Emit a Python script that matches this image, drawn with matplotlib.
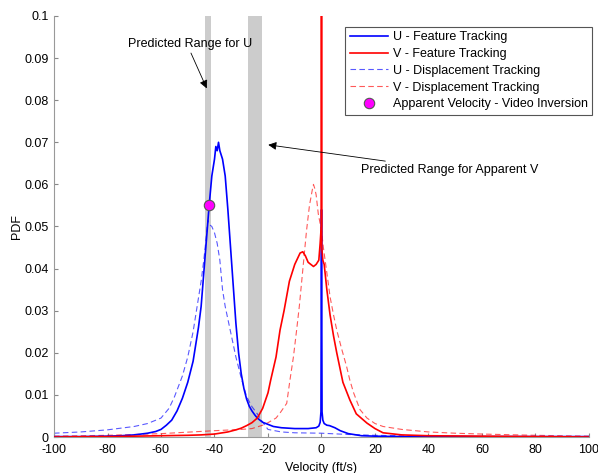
import numpy as np
import matplotlib
matplotlib.use("Agg")
import matplotlib.pyplot as plt
from matplotlib.ticker import FuncFormatter

plt.rcParams['font.family'] = ['Liberation Sans', 'DejaVu Sans']
plt.rcParams['axes.unicode_minus'] = False

# U - Feature Tracking
u_ft_x = [-100, -90, -80, -75, -70, -65, -62, -60, -58, -56, -54, -52, -50, -48, -46, -45, -44, -43, -42, -41,
          -40, -39.5, -39, -38.5, -38, -37, -36, -35, -34, -33, -32, -31, -30, -29, -28, -27, -26, -25, -24, -23,
          -22, -20, -18, -15, -10, -5, -2, -1, -0.5, -0.2, 0, 0.2, 0.5, 1, 2, 3, 5, 7, 10, 15, 20, 30, 40, 60, 80, 100]
u_ft_y = [0.0001, 0.0001, 0.0002, 0.0003, 0.0005, 0.0009, 0.0013, 0.0018, 0.0028, 0.004, 0.0062, 0.0092, 0.013,
          0.018, 0.026, 0.031, 0.039, 0.047, 0.055, 0.062, 0.066, 0.069, 0.068, 0.070, 0.068, 0.066, 0.062, 0.054,
          0.045, 0.036, 0.027, 0.020, 0.015, 0.0115, 0.009, 0.0073, 0.0062, 0.0053, 0.0045, 0.004, 0.0035, 0.003,
          0.0025, 0.0022, 0.002, 0.002, 0.0022, 0.0026, 0.0035, 0.006, 0.054, 0.006, 0.004, 0.0032, 0.0028, 0.0027,
          0.0022, 0.0015, 0.0008, 0.0003, 0.0002, 0.0001, 0.0001, 0.0001, 0.0001, 0.0001]

# V - Feature Tracking
v_ft_x = [-100, -80, -70, -60, -50, -45, -40, -35, -32, -30, -28, -26, -24, -22, -20, -19, -17, -15.5, -14, -12,
          -10, -8, -7, -6, -5, -4, -3, -2, -1, -0.5, -0.1, 0, 0.1, 0.5, 1, 2, 3.2, 4.5, 5.7, 8, 10.6, 13, 17, 20,
          23, 30, 40, 60, 80, 100]
v_ft_y = [0.0, 0.0001, 0.0002, 0.0003, 0.0004, 0.0005, 0.0007, 0.0012, 0.0017, 0.0021, 0.0027, 0.0034, 0.0045,
          0.0068, 0.0105, 0.0135, 0.019, 0.0254, 0.030, 0.037, 0.041, 0.0437, 0.044, 0.043, 0.0415, 0.041, 0.0405,
          0.041, 0.042, 0.046, 0.05, 0.2, 0.045, 0.042, 0.041, 0.035, 0.029, 0.024, 0.020, 0.013, 0.0088, 0.0055,
          0.0033, 0.002, 0.001, 0.0005, 0.0003, 0.0002, 0.0001, 0.0]

# U - Displacement Tracking
u_dt_x = [-100, -90, -80, -70, -65, -60, -57, -55, -52, -50, -48, -46, -45, -44, -43, -42.5, -42, -41, -40, -39,
          -38, -37, -36, -34, -32, -30, -28, -26, -24, -22, -20, -15, -10, 0, 10, 20, 40, 60, 100]
u_dt_y = [0.0009, 0.0012, 0.0017, 0.0025, 0.0032, 0.0045, 0.0068, 0.0095, 0.0145, 0.019, 0.025, 0.033, 0.037,
          0.042, 0.048, 0.0515, 0.0505, 0.050, 0.0485, 0.046, 0.042, 0.035, 0.031, 0.025, 0.019, 0.014, 0.0096,
          0.0072, 0.0055, 0.0035, 0.0018, 0.0012, 0.001, 0.0009, 0.0006, 0.0004, 0.0002, 0.0001, 0.0001]

# V - Displacement Tracking
v_dt_x = [-100, -80, -60, -40, -30, -26, -22, -20, -17, -15.5, -13, -11.8, -10.5, -9.3, -8.3, -7.4, -6.5, -5.6,
          -4.5, -3.5, -3, -2.5, -2, -1.2, 0, 0.7, 2, 3.2, 4.5, 5.7, 7.5, 9.4, 10.6, 12, 14.4, 17, 20, 23, 30, 40,
          50, 60, 80, 100]
v_dt_y = [0.0002, 0.0004, 0.0008, 0.0015, 0.0018, 0.002, 0.0028, 0.0034, 0.0045, 0.0057, 0.008, 0.0135, 0.019,
          0.0254, 0.031, 0.037, 0.043, 0.049, 0.055, 0.0585, 0.060, 0.059, 0.0575, 0.053, 0.049, 0.045, 0.039,
          0.0333, 0.029, 0.0254, 0.021, 0.0167, 0.0135, 0.0105, 0.0065, 0.0045, 0.0032, 0.0025, 0.0018, 0.0012,
          0.0009, 0.0007, 0.0004, 0.0002]

# Apparent velocity - video inversion
app_x = [-42]
app_y = [0.055]

# Predicted ranges (shaded bands)
range_u = [-43.4, -41.3]
range_v = [-27.4, -22.2]

FS = 9

fig = plt.figure(figsize=(5.98, 4.73), dpi=100)
ax = fig.add_axes([54/598, 1-437/473, 535/598, 421/473])

ax.axvspan(range_u[0], range_u[1], color='#cccccc', lw=0, zorder=0)
ax.axvspan(range_v[0], range_v[1], color='#cccccc', lw=0, zorder=0)

ax.plot(u_ft_x, u_ft_y, color='blue', lw=1.2, label='U - Feature Tracking', zorder=3)
ax.plot(v_ft_x, v_ft_y, color='red', lw=1.2, label='V - Feature Tracking', zorder=3)
ax.plot(u_dt_x, u_dt_y, color='blue', lw=0.8, ls=(0, (5, 3)), alpha=0.65, label='U - Displacement Tracking', zorder=2)
ax.plot(v_dt_x, v_dt_y, color='red', lw=0.8, ls=(0, (5, 3)), alpha=0.65, label='V - Displacement Tracking', zorder=2)
ax.plot(app_x, app_y, ls='none', marker='o', ms=7.5, mfc='#ff00ff', mec='#555555', mew=0.8,
        label='Apparent Velocity - Video Inversion', zorder=5)

ax.set_xlim(-100, 100)
ax.set_ylim(0, 0.1)
ax.set_xticks(np.arange(-100, 101, 20))
ax.set_yticks(np.arange(0, 0.1001, 0.01))
ax.yaxis.set_major_formatter(FuncFormatter(lambda v, p: ('%.2f' % v).rstrip('0').rstrip('.') if v != 0 else '0'))
ax.tick_params(direction='in', labelsize=FS, length=3, color='#888888')
ax.tick_params(axis='x', pad=5)
ax.tick_params(axis='y', pad=4)
for s in ['top', 'right']:
    ax.spines[s].set_visible(False)
for s in ['left', 'bottom']:
    ax.spines[s].set_color('#999999')

ax.set_xlabel('Velocity (ft/s)', fontsize=FS, labelpad=4)
ax.set_ylabel('PDF', fontsize=FS, labelpad=1)

ax.text(-49.0, 0.0933, 'Predicted Range for U', fontsize=FS, ha='center', va='center')
ax.annotate('', xy=(-42.9, 0.0828), xytext=(-48.8, 0.0912),
            arrowprops=dict(arrowstyle='-|>', color='black', lw=0.6, mutation_scale=12, shrinkA=0, shrinkB=0))
ax.annotate('Predicted Range for Apparent V', xy=(-19.9, 0.0694), xytext=(14.8, 0.0634),
            fontsize=FS, ha='left', va='center',
            arrowprops=dict(arrowstyle='-|>', color='black', lw=0.6, mutation_scale=12, shrinkA=1, shrinkB=0))

leg = ax.legend(loc='upper right', bbox_to_anchor=(592/598, 1-27/473), bbox_transform=fig.transFigure,
                borderaxespad=0, fontsize=FS, fancybox=False, framealpha=1, edgecolor='#555555',
                handlelength=3.1, labelspacing=0.38, borderpad=0.35, handletextpad=0.35)
leg.get_frame().set_linewidth(0.8)

fig.savefig('out.png', dpi=100)
